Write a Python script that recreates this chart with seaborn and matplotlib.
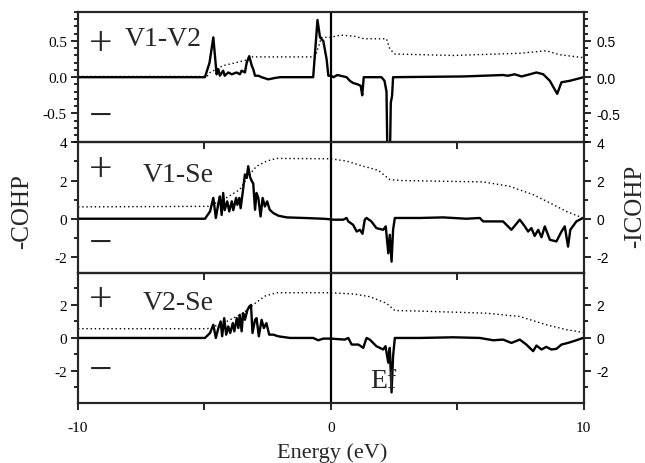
"""COHP / ICOHP panels for the V1-V2, V1-Se and V2-Se pairs."""

import matplotlib
import matplotlib.pyplot as plt
import seaborn as sns
from matplotlib.ticker import FixedLocator, FormatStrFormatter, MultipleLocator

matplotlib.use("Agg")

# V1-V2
v1v2_energy = [-10, -4.98, -4.8, -4.65, -4.52, -4.45, -4.39, -4.26, -4.2, -4.06,
               -3.92, -3.73, -3.6, -3.53, -3.4, -3.33, -3.23, -3.13, -3.07, -3.0,
               -2.87, -2.74, -2.48, -2.2, -2.0, -0.7, -0.53, -0.43, -0.3, -0.17,
               -0.1, 0.0, 0.1, 0.26, 0.62, 0.75, 0.88, 1.07, 1.18, 1.24,
               1.3, 2.0, 2.12, 2.2, 2.24, 2.33, 2.37, 2.42, 2.46, 5.23,
               6.81, 7.0, 7.27, 7.54, 7.87, 8.13, 8.4, 8.66, 8.95, 9.12,
               9.45, 9.78, 10.0]
v1v2_cohp = [0, 0, 0.2, 0.55, 0.04, 0.11, 0.02, 0.09, 0.02, 0.065,
             0.04, 0.065, 0.04, 0.09, 0.065, 0.2, 0.29, 0.16, 0.11, 0.02,
             0.02, 0.0, -0.03, -0.01, 0.0, 0.0, 0.79, 0.55, 0.5, 0.25,
             0.02, 0.02, 0.0, 0.03, 0.0, -0.05, -0.08, -0.1, -0.12, -0.25,
             0.0, 0.0, -0.05, -0.2, -1.2, -1.2, -0.35, -0.26, 0.0, 0.01,
             0.03, 0.02, 0.04, 0.01, 0.04, 0.065, 0.04, -0.05, -0.23, -0.07,
             -0.05, -0.02, 0.0]
v1v2_icohp_energy = [-10, -4.9, -4.78, -4.26, -3.4, -3.2, -0.63, -0.5, -0.37, 0.0,
                     0.22, 0.4, 0.92, 1.32, 2.2, 2.33, 2.53, 4.84, 7.47, 8.52,
                     9.05, 9.97]
v1v2_icohp = [0.01, 0.01, 0.065, 0.16, 0.23, 0.28, 0.28, 0.41, 0.55, 0.55,
              0.57, 0.58, 0.565, 0.53, 0.53, 0.39, 0.32, 0.30, 0.33, 0.365,
              0.31, 0.27]

# V1-Se
v1se_energy = [-10, -4.98, -4.78, -4.65, -4.55, -4.45, -4.39, -4.32, -4.26, -4.2,
               -4.1, -4.02, -3.92, -3.86, -3.75, -3.7, -3.62, -3.57, -3.49, -3.4,
               -3.33, -3.27, -3.2, -3.14, -3.07, -3.0, -2.94, -2.87, -2.78, -2.7,
               -2.61, -2.52, -2.42, -2.28, -2.08, -1.75, -0.96, -0.3, -0.1, 0.1,
               0.49, 0.62, 0.69, 0.88, 1.02, 1.15, 1.25, 1.34, 1.41, 1.6,
               1.8, 2.07, 2.17, 2.27, 2.33, 2.4, 2.46, 2.53, 3.52, 4.44,
               5.36, 5.89, 6.02, 6.81, 7.14, 7.47, 7.67, 7.8, 7.93, 8.06,
               8.2, 8.33, 8.46, 8.66, 8.92, 9.12, 9.25, 9.38, 9.47, 9.71,
               9.97]
v1se_cohp = [0, 0, 0.38, 1.09, 0.04, 0.82, 1.17, 0.2, 1.35, 0.45,
             0.91, 0.38, 0.91, 0.45, 1.09, 0.73, 1.09, 0.55, 1.35, 2.32,
             2.14, 2.75, 2.2, 2.0, 1.84, 0.47, 1.35, 1.09, 0.12, 1.09,
             0.64, 0.91, 0.47, 0.3, 0.16, 0.07, 0.035, 0.0, -0.02, -0.05,
             -0.05, 0.04, -0.14, -0.32, -0.67, -0.58, -0.79, -0.05, 0.04, -0.14,
             -0.49, -0.58, -0.4, -1.81, -0.84, -2.25, -0.58, 0.04, 0.04, 0.07,
             0.0, 0.04, -0.14, -0.14, -0.58, -0.05, -0.4, -0.67, -0.49, -0.9,
             -0.58, -0.97, -0.4, -1.1, -1.19, -0.67, -0.4, -1.46, -0.58, -0.14,
             0.04]
v1se_icohp_energy = [-10, -4.85, -4.26, -3.6, -3.27, -2.94, -2.54, -2.15, 0.0, 0.62,
                     1.28, 1.87, 2.33, 2.8, 6.02, 7.07, 8.0, 8.66, 9.32, 9.97]
v1se_icohp = [0.62, 0.65, 1.0, 1.53, 2.23, 2.75, 3.02, 3.16, 3.14, 3.02,
              2.75, 2.54, 2.05, 2.0, 1.93, 1.7, 1.26, 0.83, 0.38, 0.04]

# V2-Se
v2se_energy = [-10, -4.98, -4.78, -4.65, -4.55, -4.45, -4.36, -4.3, -4.22, -4.14,
               -4.06, -3.98, -3.88, -3.82, -3.72, -3.66, -3.6, -3.53, -3.47, -3.4,
               -3.3, -3.23, -3.16, -3.1, -3.0, -2.94, -2.85, -2.74, -2.65, -2.55,
               -2.44, -2.28, -2.08, -1.62, -0.7, -0.5, -0.3, 0.0, 0.55, 0.69,
               0.82, 1.09, 1.28, 1.41, 1.54, 1.8, 2.07, 2.16, 2.27, 2.33,
               2.4, 2.46, 2.53, 3.52, 4.84, 5.89, 6.42, 6.81, 7.14, 7.47,
               7.73, 8.0, 8.13, 8.33, 8.52, 8.72, 8.92, 9.12, 9.38, 9.71,
               9.97]
v2se_cohp = [0, 0, 0.3, 0.8, 0, 0.6, 1.0, 0.1, 1.2, 0.2,
             0.7, 0.3, 0.9, 0.4, 1.2, 0.6, 1.4, 0.4, 1.5, 1.1,
             1.7, 1.9, 2.0, 0.3, 1.1, 1.2, 0.1, 1.1, 0.6, 0.9,
             0.2, 0.2, 0.1, 0, 0, -0.14, -0.04, -0.04, -0.1, 0,
             -0.4, -0.4, -0.6, 0, -0.1, -0.5, -0.7, -0.5, -1.5, -0.6,
             -3.3, -1.1, 0, 0, 0.04, 0, -0.14, -0.1, -0.3, -0.1,
             -0.4, -0.8, -0.46, -0.7, -0.54, -0.7, -0.66, -0.4, -0.3, -0.14,
             0]
v2se_icohp_energy = [-10, -4.9, -4.78, -4.12, -3.47, -3.0, -2.6, -2.15, 0.0, 0.92,
                     1.54, 2.2, 2.53, 3.26, 6.15, 7.47, 8.52, 9.32, 9.97]
v2se_icohp = [0.56, 0.56, 0.6, 1.0, 1.5, 2.1, 2.54, 2.74, 2.74, 2.66,
              2.5, 2.1, 1.66, 1.64, 1.5, 1.3, 0.8, 0.5, 0.34]

pair_names = ["V1-V2", "V1-Se", "V2-Se"]
y_limits = [(-0.9, 0.9), (-2.83, 4.0), (-3.95, 3.95)]
y_major = [0.5, 2, 2]
y_minor = [0.1, 1, 1]
y_formats = ["%.1f", "%d", "%d"]

SERIF = "Liberation Serif"
SANS = "Liberation Sans"

sns.set_theme(style="ticks")
plt.rcParams["font.family"] = [SERIF, "DejaVu Serif"]
plt.rcParams["axes.unicode_minus"] = False
plt.rcParams["axes.linewidth"] = 1.5

fig, axes = plt.subplots(3, 1, figsize=(6.45, 4.64), dpi=100, sharex=True)
fig.patch.set_facecolor("white")
fig.subplots_adjust(left=0.121, right=0.905, top=0.972, bottom=0.129, hspace=0)

panels = [
    (v1v2_energy, v1v2_cohp, v1v2_icohp_energy, v1v2_icohp),
    (v1se_energy, v1se_cohp, v1se_icohp_energy, v1se_icohp),
    (v2se_energy, v2se_cohp, v2se_icohp_energy, v2se_icohp),
]
# label x, label y, "+" y, "-" y (axes fraction)
label_pos = [(0.093, 0.80, 0.76, 0.20), (0.128, 0.75, 0.79, 0.225), (0.128, 0.77, 0.79, 0.25)]

for idx, (ax, (en, cohp, ien, icohp)) in enumerate(zip(axes, panels)):
    ax.set_facecolor("none")
    sns.lineplot(x=ien, y=icohp, ax=ax, color="black", linewidth=1.0,
                 linestyle=(0, (1, 2)), sort=False, estimator=None)
    sns.lineplot(x=en, y=cohp, ax=ax, color="black", linewidth=1.7,
                 sort=False, estimator=None)
    ax.axvline(0, color="black", linewidth=1.6)

    ax.set_xlim(-10, 10)
    ax.set_ylim(*y_limits[idx])
    ax.yaxis.set_major_locator(MultipleLocator(y_major[idx]))
    ax.yaxis.set_minor_locator(MultipleLocator(y_minor[idx]))
    ax.yaxis.set_major_formatter(FormatStrFormatter(y_formats[idx]))
    ax.xaxis.set_major_locator(FixedLocator([-10, 0, 10]))
    ax.xaxis.set_minor_locator(FixedLocator([-5, 5]))
    ax.tick_params(axis="both", which="both", direction="out", width=1.2,
                   colors="black", labelsize=11, pad=3)
    ax.tick_params(axis="both", which="major", length=5)
    ax.tick_params(axis="x", which="minor", length=5)
    ax.tick_params(axis="y", which="minor", length=3)
    ax.tick_params(axis="x", pad=8)
    for spine in ax.spines.values():
        spine.set_visible(True)
        spine.set_color("black")
        spine.set_linewidth(1.5)

    lx, ly, py, my = label_pos[idx]
    ax.text(lx, ly, pair_names[idx], transform=ax.transAxes, fontsize=20,
            ha="left", va="center", family=SERIF)
    ax.text(0.045, py, "+", transform=ax.transAxes, fontsize=30,
            ha="center", va="center", family=SERIF)
    ax.text(0.045, my, "\u2212", transform=ax.transAxes, fontsize=30,
            ha="center", va="center", family=SERIF)

    tw = ax.twinx()
    tw.set_ylim(*y_limits[idx])
    tw.yaxis.set_major_locator(MultipleLocator(y_major[idx]))
    tw.yaxis.set_minor_locator(MultipleLocator(y_minor[idx]))
    tw.yaxis.set_major_formatter(FormatStrFormatter(y_formats[idx]))
    tw.tick_params(axis="y", which="both", direction="out", width=1.2,
                   colors="black", labelsize=10, pad=4)
    tw.tick_params(axis="y", which="major", length=5)
    tw.tick_params(axis="y", which="minor", length=3)
    for lab in tw.get_yticklabels():
        lab.set_family(SANS)
    tw.grid(False)

for ax in axes[:-1]:
    ax.tick_params(axis="x", labelbottom=False)

axes[-1].text(1.54, -3.0, "Ef", fontsize=20, ha="left", va="baseline", family=SERIF)

fig.text(0.035, 0.545, "-COHP", rotation=90, fontsize=18, ha="center", va="center")
fig.text(0.985, 0.555, "-ICOHP", rotation=90, fontsize=18, ha="center", va="center")
fig.text(0.515, 0.024, "Energy (eV)", fontsize=16, ha="center", va="center")

fig.savefig("out.png", dpi=100, facecolor="white")
